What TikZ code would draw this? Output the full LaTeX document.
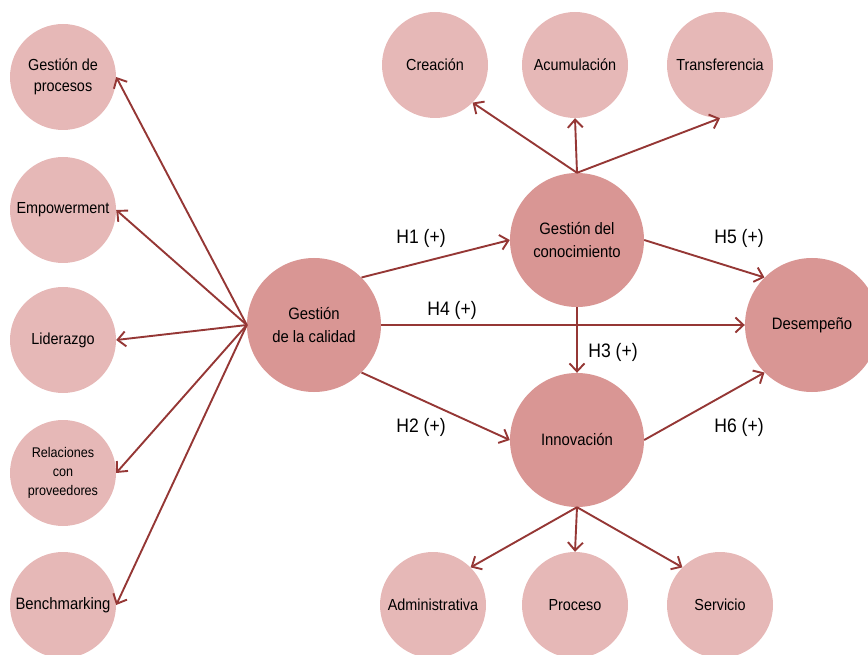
\documentclass[tikz,border=0pt]{standalone}
\usepackage{fontspec}
\setmainfont{Liberation Sans}[FakeStretch=0.9]
\usetikzlibrary{arrows.meta}
\definecolor{lightrose}{HTML}{E6B8B7}
\definecolor{darkrose}{HTML}{D99694}
\definecolor{linkred}{HTML}{953735}
\begin{document}
\begin{tikzpicture}[x=1pt,y=-1pt,
  dim/.style={circle,fill=lightrose,draw=none,inner sep=0pt,minimum size=106pt,
    align=center,font=\fontsize{16}{21}\selectfont},
  construct/.style={circle,fill=darkrose,draw=none,inner sep=0pt,minimum size=134pt,
    align=center,font=\fontsize{16.5}{23}\selectfont},
  link/.style={draw=linkred,line width=1.9pt,
    -{Straight Barb[length=8pt,width=15pt,line width=1.9pt]}},
  hyp/.style={font=\fontsize{19.5}{22}\selectfont,inner sep=0pt}]
\useasboundingbox (0,0) rectangle (868,655);

% quality management dimensions
\node[dim] (gp) at (63,77) {Gestión de\\procesos};
\node[dim] (emp) at (63,210) {Empowerment};
\node[dim] (lid) at (63,340) {Liderazgo};
\node[dim,font=\fontsize{14}{19}\selectfont] (rel) at (63,473) {Relaciones\\con\\proveedores};
\node[dim,font=\fontsize{16.5}{20}\selectfont] (ben) at (63,605) {Benchmarking};

% knowledge management dimensions
\node[dim] (cre) at (435,65) {Creación};
\node[dim] (acu) at (575,65) {Acumulación};
\node[dim] (tra) at (720,65) {Transferencia};

% innovation types
\node[dim] (adm) at (433,605) {Administrativa};
\node[dim] (pro) at (575,605) {Proceso};
\node[dim] (ser) at (720,605) {Servicio};

% main constructs
\node[construct] (cal) at (314,325) {Gestión\\de la calidad};
\node[construct] (gc) at (577,240) {Gestión del\\conocimiento};
\node[construct] (inn) at (577,440) {Innovación};
\node[construct] (des) at (812,325) {Desempeño};

% measurement links
\foreach \t in {gp,emp,lid,rel,ben}
  \draw[link] (cal.west) -- (\t.east);
\draw[link] (gc.north) -- (cre.south east);
\draw[link] (gc.north) -- (acu.south);
\draw[link] (gc.north) -- (tra.south);
\draw[link] (inn.south) -- (adm.north east);
\draw[link] (inn.south) -- (pro.north);
\draw[link] (inn.south) -- (ser.north west);

% hypotheses
\draw[link] (cal.north east) -- (gc.west);
\draw[link] (cal.south east) -- (inn.west);
\draw[link] (cal.east) -- (des.west);
\draw[link] (gc.south) -- (inn.north);
\draw[link] (gc.east) -- (des.north west);
\draw[link] (inn.east) -- (des.south west);

\node[hyp] (h1) at (421,238) {H1 (+)};
\node[hyp] (h2) at (421,427) {H2 (+)};
\node[hyp] (h3) at (613,352) {H3 (+)};
\node[hyp] (h4) at (452,310) {H4 (+)};
\node[hyp] (h5) at (739,238) {H5 (+)};
\node[hyp] (h6) at (739,427) {H6 (+)};
\end{tikzpicture}
\end{document}
